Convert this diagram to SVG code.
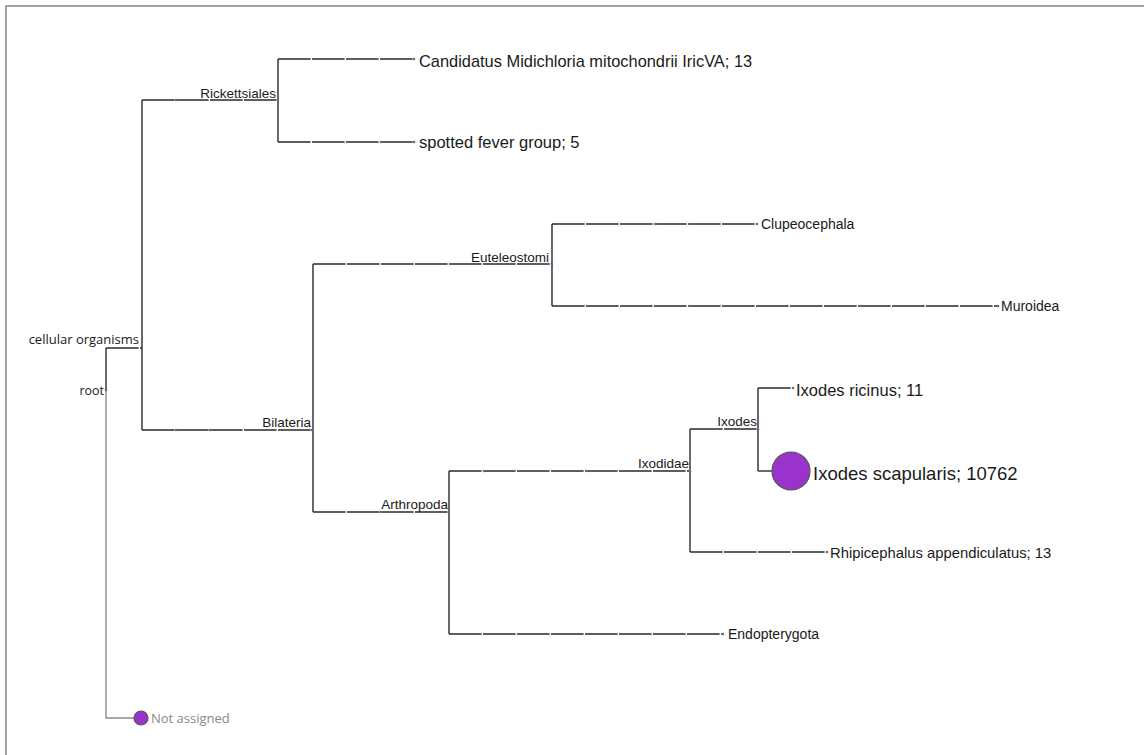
<svg xmlns="http://www.w3.org/2000/svg" width="1144" height="755" viewBox="0 0 1144 755">
<style>
.h{fill:none;stroke:#2a2a2a;stroke-width:1.4;stroke-dasharray:32.6 1.4}
.v{fill:none;stroke:#2a2a2a;stroke-width:1.4}
.g{fill:none;stroke:#8a8a8a;stroke-width:1.4}
.d{fill:#7a6090}
.t{font-family:"Liberation Sans",Arial,sans-serif;fill:#1a1a1a}
.o{font-family:"Open Sans","Liberation Sans",sans-serif;fill:#1a1a1a}
.big{fill:#9933cc;stroke:#555;stroke-width:1.2}
</style>
<rect x="6" y="6" width="1146" height="760" fill="#fff" stroke="#8c8c8c" stroke-width="1.6"/>
<g id="connectors">
<path class="g" d="M106,390 V718 H134"/>
<path class="v" d="M106,390 V348"/>
<path class="h" d="M106,348 H142"/>
<path class="v" d="M142,100 V430"/>
<path class="h" d="M142,100 H278"/>
<path class="v" d="M278,59 V142"/>
<path class="h" d="M278,59 H414"/>
<path class="h" d="M278,142 H414"/>
<path class="h" d="M142,430 H313"/>
<path class="v" d="M313,264 V512"/>
<path class="h" d="M313,264 H552"/>
<path class="v" d="M552,224 V306"/>
<path class="h" d="M552,224 H757"/>
<path class="h" d="M552,306 H998"/>
<path class="h" d="M313,512 H449"/>
<path class="v" d="M449,471 V634"/>
<path class="h" d="M449,471 H690"/>
<path class="v" d="M690,471 V552"/>
<path class="h" d="M690,429 H758"/>
<path class="v" d="M690,429 V471"/>
<path class="v" d="M758,388 V471"/>
<path class="h" d="M758,388 H793"/>
<path class="v" d="M758,471 H772"/>
<path class="h" d="M690,552 H827"/>
<path class="h" d="M449,634 H723"/>
<g class="d">
<circle cx="176" cy="100" r="1.3"/><circle cx="414" cy="59" r="1.3"/><circle cx="381" cy="142" r="1.3"/><circle cx="414" cy="142" r="1.3"/>
<circle cx="176" cy="430" r="1.3"/><circle cx="210" cy="430" r="1.3"/><circle cx="312" cy="430" r="1.3"/>
<circle cx="552" cy="265" r="1.3"/><circle cx="655" cy="224" r="1.3"/><circle cx="690" cy="224" r="1.3"/><circle cx="757" cy="224" r="1.3"/>
<circle cx="690" cy="306" r="1.3"/><circle cx="861" cy="306" r="1.3"/><circle cx="998" cy="306" r="1.3"/>
<circle cx="381" cy="512" r="1.3"/><circle cx="484" cy="471" r="1.3"/><circle cx="587" cy="471" r="1.3"/><circle cx="690" cy="471" r="1.3"/>
<circle cx="518" cy="634" r="1.3"/><circle cx="723" cy="634" r="1.3"/><circle cx="758" cy="429" r="1.3"/><circle cx="793" cy="388" r="1.3"/>
<circle cx="827" cy="552" r="1.3"/><circle cx="106" cy="390" r="1.3"/>
</g>
</g>
<g id="root"><text class="o" x="104" y="395" font-size="12.5" text-anchor="end">root</text></g>
<g id="cellular-organisms"><text class="o" x="139" y="344" font-size="13" text-anchor="end">cellular organisms</text></g>
<g id="not-assigned"><circle class="big" cx="141" cy="718" r="7"/><text class="o" x="151" y="723" font-size="13" fill="#888" style="fill:#888">Not assigned</text></g>
<g id="rickettsiales"><text class="t" x="276" y="98" font-size="13.5" text-anchor="end">Rickettsiales</text></g>
<g id="candidatus"><text class="t" x="419" y="67" font-size="16.4">Candidatus Midichloria mitochondrii IricVA; 13</text></g>
<g id="spotted-fever-group"><text class="t" x="419" y="148" font-size="16.5">spotted fever group; 5</text></g>
<g id="bilateria"><text class="t" x="311" y="427" font-size="13.5" text-anchor="end">Bilateria</text></g>
<g id="euteleostomi"><text class="t" x="549" y="262" font-size="13.5" text-anchor="end">Euteleostomi</text></g>
<g id="clupeocephala"><text class="t" x="761" y="229" font-size="14">Clupeocephala</text></g>
<g id="muroidea"><text class="t" x="1001" y="311" font-size="14">Muroidea</text></g>
<g id="arthropoda"><text class="t" x="448" y="509" font-size="13.5" text-anchor="end">Arthropoda</text></g>
<g id="ixodidae"><text class="t" x="689" y="468" font-size="13.5" text-anchor="end">Ixodidae</text></g>
<g id="ixodes"><text class="t" x="757" y="426" font-size="13.5" text-anchor="end">Ixodes</text></g>
<g id="ixodes-ricinus"><text class="t" x="796" y="396" font-size="16.5">Ixodes ricinus; 11</text></g>
<g id="ixodes-scapularis"><circle class="big" cx="791" cy="471" r="19"/><text class="t" x="813" y="480" font-size="18.5">Ixodes scapularis; 10762</text></g>
<g id="rhipicephalus"><text class="t" x="830" y="558" font-size="14.8">Rhipicephalus appendiculatus; 13</text></g>
<g id="endopterygota"><text class="t" x="728" y="639" font-size="14">Endopterygota</text></g>
</svg>
